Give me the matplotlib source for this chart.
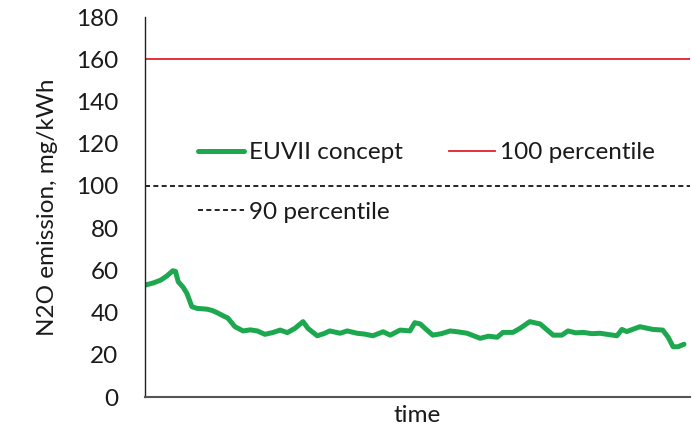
import matplotlib
matplotlib.use('Agg')
import matplotlib.pyplot as plt

# Mesures N2O (mg/kWh) le long du cycle, temps en unités relatives
time = [0.0, 1.5, 2.9, 4.0, 5.1, 5.6, 6.1, 7.0, 7.7, 8.6, 9.5, 11.4, 12.3, 13.2,
        14.3, 15.2, 16.5, 18.0, 19.3, 20.6, 22.0, 23.4, 24.8, 26.1, 27.5, 29.0,
        29.9, 31.6, 32.8, 33.9, 35.8, 37.1, 38.9, 40.3, 41.8, 43.7, 45.0, 46.8,
        48.6, 49.5, 50.5, 51.6, 52.8, 54.4, 56.0, 57.6, 59.1, 61.5, 63.0, 64.6,
        65.7, 67.5, 68.8, 70.6, 72.5, 74.9, 76.5, 77.6, 79.0, 80.4, 82.0, 83.5,
        85.0, 86.6, 87.5, 88.4, 90.8, 93.2, 95.0, 96.0, 96.9, 97.8, 98.9]
euvii = [53.0, 54.0, 55.4, 57.3, 59.8, 59.5, 54.6, 52.0, 49.0, 42.8, 42.0, 41.6,
         41.0, 40.0, 38.5, 37.4, 33.3, 31.3, 31.8, 31.3, 29.7, 30.5, 31.7, 30.5,
         32.5, 35.7, 32.5, 29.0, 30.0, 31.3, 30.2, 31.3, 30.2, 29.8, 29.0, 30.9,
         29.3, 31.7, 31.3, 35.2, 34.6, 32.0, 29.3, 30.0, 31.3, 30.8, 30.2, 27.8,
         28.8, 28.3, 30.6, 30.6, 32.5, 35.7, 34.6, 29.3, 29.3, 31.3, 30.4, 30.6,
         30.0, 30.2, 29.6, 29.0, 32.0, 31.0, 33.3, 32.0, 31.7, 28.3, 23.8, 23.8,
         25.0]

p100 = 160  # 100 percentile
p90 = 100   # 90 percentile

plt.rcParams['font.family'] = ['Lato', 'DejaVu Sans']
fs = 17.5

fig = plt.figure(figsize=(6.92, 4.34), dpi=100)
ax = fig.add_axes([145 / 692, 1 - 397 / 434, 545 / 692, 380 / 434])

ax.plot(time, euvii, color='#1DA84F', lw=3.6, solid_joinstyle='round',
        solid_capstyle='round', label='EUVII concept')
ax.axhline(p90, color='black', lw=1.2, ls=(0, (3, 2)), label='90 percentile')
ax.axhline(p100, color='#E3202A', lw=1.3, label='100 percentile')

ax.set_xlim(0, 100)
ax.set_ylim(0, 180)
ax.set_yticks(range(0, 181, 20))
ax.set_xticks([])
ax.tick_params(axis='y', length=0, pad=19, labelsize=fs, colors='#1a1a1a')
for s in ['top', 'right']:
    ax.spines[s].set_visible(False)
ax.spines['left'].set_color('#222222')
ax.spines['bottom'].set_color('#555555')
ax.spines['left'].set_linewidth(1.0)
ax.spines['bottom'].set_linewidth(1.5)

ax.set_ylabel('N2O emission, mg/kWh', fontsize=fs, color='#1a1a1a', labelpad=13)
ax.set_xlabel('time', fontsize=fs, color='#1a1a1a', labelpad=6)

handles, labels = ax.get_legend_handles_labels()
ax.legend(handles, labels, ncol=2, loc='upper left', frameon=False,
          bbox_to_anchor=(198 / 692, 1 - 142 / 434), bbox_transform=fig.transFigure,
          fontsize=fs, labelcolor='#1a1a1a', handlelength=1.9, handletextpad=0.2,
          labelspacing=1.6, columnspacing=1.9, borderpad=0, borderaxespad=0)

fig.savefig('out.png', dpi=100)
